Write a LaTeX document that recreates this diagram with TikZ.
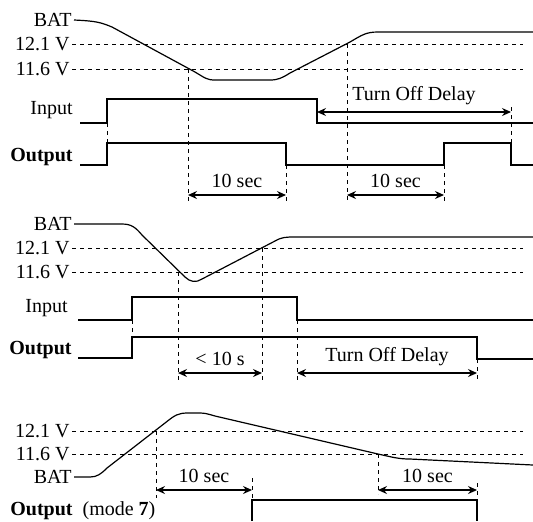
\documentclass[tikz,border=0pt]{standalone}
\usepackage{fontspec}
\setmainfont{Liberation Serif}
\usetikzlibrary{arrows.meta}

\begin{document}
\begin{tikzpicture}[x=0.5pt,y=-0.5pt,
    lbl/.style={anchor=east, inner sep=1pt},
    sig/.style={line width=0.6pt},
    outsig/.style={line width=1.4pt},
    thr/.style={dash pattern=on 2.2pt off 1.8pt, line width=0.5pt},
    guide/.style={dash pattern=on 2.2pt off 1.8pt, line width=0.5pt},
    dimline/.style={{Stealth[length=4.5pt,width=4pt,inset=1.5pt]}-{Stealth[length=4.5pt,width=4pt,inset=1.5pt]}, line width=0.6pt}]
    \useasboundingbox (0,0) rectangle (533,521);

    % panel 1: battery drops, returns after turn off delay
    \node (bat1) at (74,20)[lbl]{BAT};
    \node (hi1) at (72,44)[lbl]{12.1 V};
    \node (lo1) at (72,69)[lbl]{11.6 V};
    \node (in1) at (75,110)[lbl]{Input};
    \node (out1) at (75,157)[lbl]{\bfseries Output};
    \draw[thr](hi1.east)--(523,44);
    \draw[thr](lo1.east)--(523,69);
    \draw[sig](bat1.east) .. controls (95,21) and (100,22) .. (112,27)--(195,72)
        .. controls (205,78) and (207,80) .. (215,80)--(270,80)
        .. controls (278,80) and (282,78) .. (290,73)--(350,42)
        .. controls (362,35) and (366,32) .. (378,32)--(533,32);
    \draw[sig](80,123)--(107,123)--(107,99)--(317,99)--(317,123)--(533,123);
    \draw[outsig](80,165)--(107,165)--(107,143)--(286,143)--(286,165)--(444,165)--(444,143)--(511,143)--(511,165)--(533,165);
    \draw[guide](107,123)--(107,143);
    \draw[guide](188,69)--(188,203);
    \draw[guide](286,165)--(286,203);
    \draw[guide](347,44)--(347,203);
    \draw[guide](444,165)--(444,203);
    \draw[guide](511,107)--(511,143);
    \coordinate (a1) at (188,195);
    \coordinate (b1) at (286,195);
    \coordinate (c1) at (347,195);
    \coordinate (d1) at (444,195);
    \coordinate (e1) at (317,112);
    \coordinate (f1) at (511,112);
    \draw[dimline](a1)--node[above]{10 sec}(b1);
    \draw[dimline](c1)--node[above]{10 sec}(d1);
    \draw[dimline](e1)--node[above]{Turn Off Delay}(f1);

    % panel 2: short dip, less than 10 s
    \node (bat2) at (74,224)[lbl]{BAT};
    \node (hi2) at (72,248)[lbl]{12.1 V};
    \node (lo2) at (72,272)[lbl]{11.6 V};
    \node (in2) at (70,308)[lbl]{Input};
    \node (out2) at (74,350)[lbl]{\bfseries Output};
    \draw[thr](hi2.east)--(523,248);
    \draw[thr](lo2.east)--(523,272);
    \draw[sig](bat2.east)--(122,224) .. controls (132,224) and (136,228) .. (142,235)--(185,277)
        .. controls (190,282) and (196,283) .. (202,279)--(275,241)
        .. controls (282,237) and (286,237) .. (295,237)--(533,237);
    \draw[sig](78,320)--(132,320)--(132,297)--(297,297)--(297,320)--(533,320);
    \draw[outsig](78,358)--(132,358)--(132,337)--(477,337)--(477,359)--(533,359);
    \draw[guide](132,320)--(132,337);
    \draw[guide](178,272)--(178,381);
    \draw[guide](262,248)--(262,381);
    \draw[guide](297,320)--(297,381);
    \draw[guide](477,359)--(477,381);
    \coordinate (a2) at (178,373);
    \coordinate (b2) at (262,373);
    \coordinate (c2) at (297,373);
    \coordinate (d2) at (477,373);
    \draw[dimline](a2)--node[above]{< 10 s}(b2);
    \draw[dimline](c2)--node[above]{Turn Off Delay}(d2);

    % panel 3: mode 7
    \node (hi3) at (72,431)[lbl]{12.1 V};
    \node (lo3) at (72,454)[lbl]{11.6 V};
    \node (bat3) at (74,477)[lbl]{BAT};
    \node (out3) at (10,511)[anchor=west,inner sep=0pt]{\bfseries Output\mdseries\ \ (mode \textbf{7})};
    \draw[thr](hi3.east)--(523,431);
    \draw[thr](lo3.east)--(523,454);
    \draw[sig](bat3.east)--(90,477) .. controls (97,477) and (101,474) .. (107,468)--(165,423)
        .. controls (175,415) and (178,413) .. (188,413)--(200,413)
        .. controls (205,413) and (208,414) .. (215,416)--(378,454)
        .. controls (392,457) and (398,459) .. (410,459)--(533,465);
    \draw[outsig](252,521)--(252,500)--(477,500)--(477,521);
    \draw[guide](156,431)--(156,498);
    \draw[guide](252,478)--(252,500);
    \draw[guide](378,454)--(378,494);
    \draw[guide](477,483)--(477,500);
    \coordinate (a3) at (156,490);
    \coordinate (b3) at (252,490);
    \coordinate (c3) at (378,490);
    \coordinate (d3) at (477,490);
    \draw[dimline](a3)--node[above]{10 sec}(b3);
    \draw[dimline](c3)--node[above]{10 sec}(d3);
\end{tikzpicture}
\end{document}
